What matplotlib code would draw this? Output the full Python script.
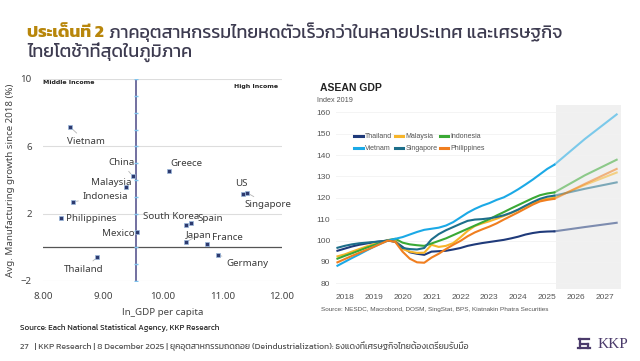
import matplotlib
matplotlib.use("Agg")
import matplotlib.pyplot as plt
from matplotlib.lines import Line2D

# ---- scatter data: ln GDP per capita vs avg manufacturing growth since 2018 (%)
countries = ["Vietnam", "China", "Malaysia", "Indonesia", "Philippines", "Greece", "US",
             "Singapore", "South Korea", "Spain", "Mexico", "Japan", "France", "Germany", "Thailand"]
ln_gdp = [8.46, 9.50, 9.39, 8.51, 8.30, 10.11, 11.35, 11.41, 10.40, 10.47, 9.57, 10.39, 10.74, 10.93, 8.91]
mfg_growth = [7.13, 4.24, 3.56, 2.71, 1.72, 4.55, 3.19, 3.25, 1.34, 1.44, 0.93, 0.31, 0.18, -0.46, -0.58]
income_split = 9.55

# ---- ASEAN GDP, index 2019 = 100 (quarterly history + forecast)
hist_x = [2017.75 + 0.25 * i for i in range(31)]
fcst_x = [2025.25, 2026.3, 2027.4]
gdp_hist = {
    "Thailand": [95.2, 96.2, 97.2, 98.0, 98.6, 99.2, 99.6, 100.0, 99.5, 97.0, 94.5, 93.8, 93.3, 94.8, 95.0, 95.2,
                 95.8, 96.5, 97.5, 98.2, 98.8, 99.3, 99.8, 100.3, 101.0, 101.8, 102.8, 103.5, 104.0, 104.2, 104.3],
    "Malaysia": [92.6, 93.5, 94.8, 96.0, 97.2, 98.3, 99.2, 100.1, 100.0, 96.0, 94.8, 94.2, 94.3, 98.0, 97.0, 97.5,
                 98.8, 101.5, 104.5, 106.8, 108.0, 109.0, 110.2, 111.5, 112.8, 114.3, 116.0, 117.6, 118.8, 119.5, 120.0],
    "Indonesia": [91.5, 92.8, 94.0, 95.3, 96.6, 97.8, 99.0, 100.2, 100.8, 99.0, 98.2, 97.8, 97.5, 98.6, 99.8, 101.0,
                  102.5, 104.0, 105.5, 107.0, 108.5, 110.0, 111.7, 113.3, 115.0, 116.6, 118.2, 119.8, 121.2, 122.0, 122.5],
    "Vietnam": [88.2, 90.0, 91.8, 93.5, 95.3, 97.0, 98.6, 100.0, 100.8, 101.6, 102.8, 104.0, 105.0, 105.5, 106.0, 107.0,
                108.6, 110.8, 113.0, 114.8, 116.3, 117.5, 119.0, 120.2, 122.0, 124.0, 126.2, 128.5, 131.0, 133.5, 135.5],
    "Singapore": [96.6, 97.5, 98.2, 98.7, 99.0, 99.3, 99.6, 100.0, 99.4, 96.5, 96.0, 95.8, 96.5, 100.5, 103.0, 104.8,
                  106.3, 107.8, 109.2, 109.8, 110.0, 110.4, 111.0, 111.8, 113.0, 114.5, 116.3, 118.0, 119.5, 120.5, 121.0],
    "Philippines": [89.8, 91.3, 92.8, 94.2, 95.6, 97.0, 98.5, 100.0, 99.3, 94.8, 91.5, 89.8, 89.6, 92.0, 93.8, 96.0,
                    98.0, 99.8, 102.0, 103.8, 105.2, 106.5, 108.0, 109.8, 111.5, 113.2, 115.0, 116.8, 118.3, 119.0, 119.5],
}
gdp_fcst = {
    "Thailand": [104.3, 106.3, 108.3],
    "Malaysia": [120.0, 126.0, 131.8],
    "Indonesia": [122.5, 130.5, 137.8],
    "Vietnam": [135.5, 147.5, 159.0],
    "Singapore": [121.0, 124.2, 127.2],
    "Philippines": [119.5, 126.5, 133.5],
}
colors = {"Thailand": "#1f3a7a", "Malaysia": "#f7b52a", "Indonesia": "#3aa935",
          "Vietnam": "#1ba9e6", "Singapore": "#1d6e8a", "Philippines": "#f07e1f"}

TXT = "#3d3b50"
fig = plt.figure(figsize=(6.4, 3.61), dpi=100)
W, H = 640, 361

# ---- title
thai = ["Kanit", "DejaVu Sans"]
t1 = fig.text(27 / W, 1 - 32.5 / H, "ประเด็นที่ 2", fontsize=12.5, fontweight="bold", color="#b8860b",
              family=thai, va="center")
r = fig.canvas.get_renderer()
bb = t1.get_window_extent(r)
fig.text(bb.x1 / W + 5 / W, 1 - 32.5 / H, "ภาคอุตสาหกรรมไทยหดตัวเร็วกว่าในหลายประเทศ และเศรษฐกิจ",
         fontsize=13, color=TXT, family=thai, va="center")
fig.text(27 / W, 1 - 52 / H, "ไทยโตช้าที่สุดในภูมิภาค", fontsize=13, color=TXT, family=thai, va="center")

# ---- left: scatter
lab = ["Noto Sans", "DejaVu Sans"]
ax = fig.add_axes([43 / W, 1 - 281 / H, 239 / W, 202 / H])
ax.set_xlim(8, 12)
ax.set_ylim(-2, 10)
ax.set_xticks([8, 9, 10, 11, 12])
ax.set_xticklabels(["8.00", "9.00", "10.00", "11.00", "12.00"])
ax.set_yticks([-2, 2, 6, 10])
ax.grid(axis="y", color="#dddddd", lw=0.8)
ax.axhline(0, color="#555555", lw=0.9)
for s in ax.spines.values():
    s.set_visible(False)
ax.tick_params(length=0, labelsize=7, colors="#444444", pad=8)
for t in ax.get_xticklabels() + ax.get_yticklabels():
    t.set_family(lab)
ax.plot([income_split] * 13, range(-2, 11), color="#5a5890", lw=1.2, marker="_", ms=2.5,
        mec="#7fc4ee", mew=1.0, zorder=3)
ax.scatter(ln_gdp, mfg_growth, marker="s", s=12, color="#2e3a6e", edgecolors="#9ab8dd",
           linewidths=0.5, zorder=4)

# label offsets in pixels (dx, dy down), alignment, leader line
offsets = {
    "Vietnam": (15, 14, "center", True), "China": (-11, -13, "center", True),
    "Malaysia": (-15, -5, "center", False), "Indonesia": (9, -5, "left", True),
    "Philippines": (5, 0, "left", False), "Greece": (17, -7, "center", False),
    "US": (-2, -10, "center", False), "Singapore": (21, 12, "center", True),
    "South Korea": (-15, -8, "center", False), "Spain": (20, -5, "center", False),
    "Mexico": (-2, 1.5, "right", False), "Japan": (13, -7, "center", True),
    "France": (21, -7, "center", True), "Germany": (29, 8, "center", True),
    "Thailand": (-14, 12, "center", True),
}
for c, x, y in zip(countries, ln_gdp, mfg_growth):
    dx, dy, ha, lead = offsets[c]
    ap = dict(arrowstyle="-", color="#b5b5b5", lw=0.6, shrinkA=1, shrinkB=2) if lead else None
    ax.annotate(c, (x, y), xytext=(dx * 0.72, -dy * 0.72), textcoords="offset points",
                ha=ha, va="center", fontsize=7, color="#3c3c3c", family=lab, arrowprops=ap)

ax.text(0.0, 0.985, "Middle Income", transform=ax.transAxes, fontsize=4.5, fontweight="bold",
        color="#222222", ha="left", va="center")
ax.text(0.983, 0.965, "High Income", transform=ax.transAxes, fontsize=4.5, fontweight="bold",
        color="#222222", ha="right", va="center")
ax.set_xlabel("ln_GDP per capita", fontsize=7, color="#444444", family=lab, labelpad=5)
ax.set_ylabel("Avg. Manufacturing growth since 2018 (%)", fontsize=7, color="#444444",
              family=lab, labelpad=4)

# ---- right: ASEAN GDP
nar = ["Liberation Sans", "DejaVu Sans"]
ax2 = fig.add_axes([336 / W, 1 - 288.6 / H, 285 / W, 183.8 / H])
ax2.set_xlim(2017.7, 2027.55)
ax2.set_ylim(77.5, 163.5)
ax2.axvspan(2025.3, 2027.55, color="#f0f0f0", lw=0, zorder=0)
lines = {}
for name in gdp_hist:
    lines[name], = ax2.plot(hist_x, gdp_hist[name], color=colors[name], lw=1.5, label=name, zorder=3)
    ax2.plot(fcst_x, gdp_fcst[name], color=colors[name], lw=1.5, alpha=0.55, zorder=2)
ax2.set_yticks(range(80, 161, 10))
ax2.set_xticks(range(2018, 2028))
ax2.grid(axis="y", color="#f2f2f2", lw=0.6)
ax2.set_axisbelow(True)
for s in ax2.spines.values():
    s.set_visible(False)
ax2.tick_params(length=0, labelsize=6, colors="#555555", pad=4)
for t in ax2.get_xticklabels() + ax2.get_yticklabels():
    t.set_family(nar)
# legend reads row-wise, matplotlib fills column-wise
order = ["Thailand", "Vietnam", "Malaysia", "Singapore", "Indonesia", "Philippines"]
leg = ax2.legend([lines[n] for n in order], order, ncol=3, loc="upper left",
                 bbox_to_anchor=(0.055, 0.86), frameon=False,
                 prop={"family": nar, "size": 5.0}, handlelength=1.2, handletextpad=0.3,
                 columnspacing=0.4, labelspacing=0.7, borderaxespad=0)
for t in leg.get_texts():
    t.set_color("#555555")
for h in leg.legend_handles:
    h.set_linewidth(2.2)

fig.text(320 / W, 1 - 88 / H, "ASEAN GDP", fontsize=7.5, fontweight="bold", color="#222222",
         family=nar, va="center")
fig.text(317 / W, 1 - 100.5 / H, "Index 2019", fontsize=5.2, color="#555555", family=nar, va="center")
fig.text(321 / W, 1 - 310 / H, "Source: NESDC, Macrobond, DOSM, SingStat, BPS, Kiatnakin Phatra Securities",
         fontsize=4.6, color="#555555", family=nar, va="center")

# ---- footer
fig.text(20 / W, 1 - 328 / H, "Source: Each National Statistical Agency, KKP Research",
         fontsize=5.8, color="#222222", family=thai, va="center")
fig.text(20 / W, 1 - 346 / H,
         "27   | KKP Research | 8 December 2025 | ยุคอุตสาหกรรมถดถอย (Deindustrialization): ธงแดงที่เศรษฐกิจไทยต้องเตรียมรับมือ",
         fontsize=6.2, color="#555555", family=thai, va="center")
fig.text(628 / W, 1 - 344 / H, "KKP", fontsize=11, color="#4b3b6b", family="Liberation Serif",
         ha="right", va="center")
# small logo mark
lx, ly = 579, 344
for xs, ys in [([lx, lx + 10], [ly - 5, ly - 5]), ([lx + 1, lx + 1], [ly - 5, ly + 4]),
               ([lx + 1, lx + 9], [ly, ly]), ([lx + 9, lx + 9], [ly, ly + 4]),
               ([lx - 1, lx + 11], [ly + 4, ly + 4])]:
    fig.add_artist(Line2D([x / W for x in xs], [1 - y / H for y in ys], color="#4b3b6b", lw=1.6))

fig.savefig("out.png", dpi=100)
